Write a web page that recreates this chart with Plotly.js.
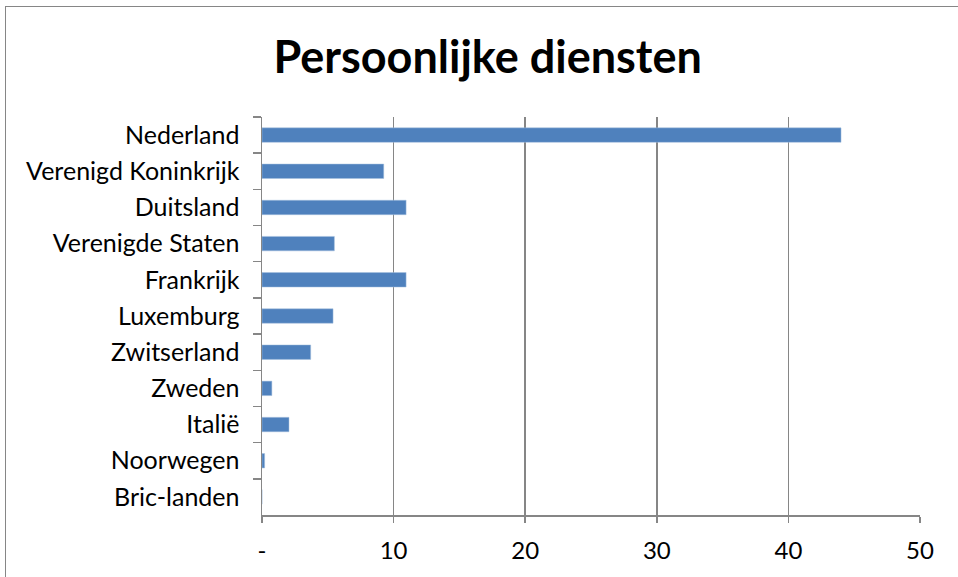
<!DOCTYPE html>
<html>
<head>
<meta charset="utf-8">
<script src="https://cdn.plot.ly/plotly-3.0.1.min.js"></script>
<style>
html,body{margin:0;padding:0;background:#fff;overflow:hidden;}
#frame{position:absolute;left:5px;top:6px;width:1000px;height:620px;border:1.5px solid #868686;}
#chart{position:absolute;left:0;top:0;width:958px;height:577px;}
</style>
</head>
<body>
<div id="frame"></div>
<div id="chart"></div>
<script>
const categories = ["Nederland","Verenigd Koninkrijk","Duitsland","Verenigde Staten","Frankrijk","Luxemburg","Zwitserland","Zweden","Italië","Noorwegen","Bric-landen"];
const values = [44.0, 9.25, 10.95, 5.5, 10.95, 5.4, 3.7, 0.75, 2.05, 0.2, 0];
const xTickVals = [0,10,20,30,40,50];
const xTickText = ["-","10","20","30","40","50"];

const font = "Lato, 'Open Sans', sans-serif";
Plotly.newPlot('chart', [{
  type:'bar', orientation:'h', x:values, y:categories,
  marker:{color:'#4F81BD', line:{color:'#A7C0DE', width:0.5}},
  width:0.4, hoverinfo:'x+y'
}], {
  width:958, height:577,
  paper_bgcolor:'rgba(0,0,0,0)', plot_bgcolor:'rgba(0,0,0,0)',
  margin:{l:262, r:38, t:117, b:62},
  title:{text:'Persoonlijke diensten', font:{family:font, size:45, color:'#000', weight:'bold'}, x:0.509, xanchor:'center', y:0.9, yanchor:'middle', xref:'container', yref:'container'},
  xaxis:{range:[0,50], tickvals:xTickVals, ticktext:xTickText, showgrid:true, gridcolor:'#868686', gridwidth:1.5,
    showline:true, linecolor:'#868686', linewidth:1.5, ticks:'outside', ticklen:6, tickcolor:'#868686', tickwidth:1.5,
    tickfont:{family:font, size:24, color:'#000'}, ticklabelstandoff:8, zeroline:false, fixedrange:true},
  yaxis:{type:'category', autorange:'reversed', tickson:'boundaries', showgrid:false, showline:true, linecolor:'#868686', linewidth:1.5,
    ticks:'outside', ticklen:8, tickcolor:'#868686', tickwidth:1.5, tickfont:{family:font, size:25, color:'#000'}, ticklabelstandoff:16, fixedrange:true},
  showlegend:false, bargap:0.6
}, {displayModeBar:false, staticPlot:true});
</script>
</body>
</html>
